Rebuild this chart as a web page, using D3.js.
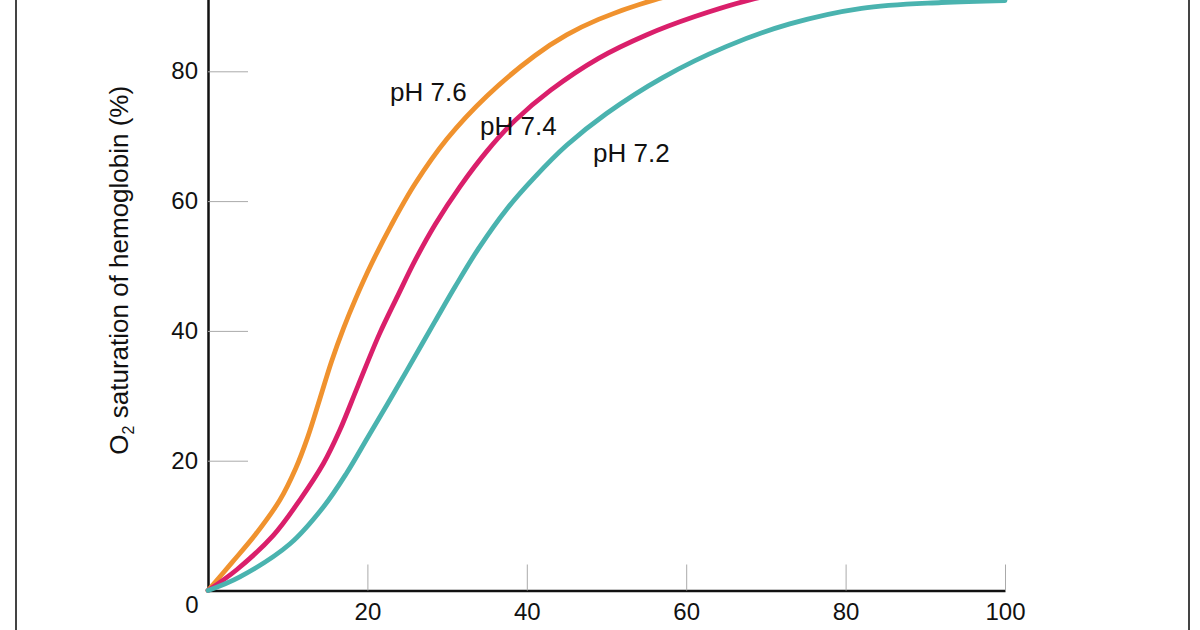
<!DOCTYPE html>
<html>
<head>
<meta charset="utf-8">
<script src="https://cdn.jsdelivr.net/npm/d3@7"></script>
<style>
  html, body { margin: 0; padding: 0; background: #fff; }
  svg { display: block; }
  text { font-family: "Liberation Sans", Arial, Helvetica, sans-serif; fill: #111; }
</style>
</head>
<body>
<svg id="chart" width="1200" height="630"></svg>
<script>
// ---- data ----
const xTickValues = [20, 40, 60, 80, 100];
const yTickValues = [20, 40, 60, 80];

const po2_76 = [0, 3, 6, 9, 11, 12.5, 14, 15.5, 17, 18.5, 20.5, 23, 26, 30, 35, 41, 45, 49, 56, 65, 80, 100];
const sat_76 = [0, 4.3, 8.7, 13.9, 18.8, 23.6, 29.4, 35.3, 40.4, 44.9, 50.3, 56.3, 62.7, 69.6, 76.2, 82.4, 85.6, 88.0, 91, 93.5, 96, 97.5];

const po2_74 = [0, 3.6, 8.2, 11.5, 14.5, 16.5, 18.8, 21.5, 23.8, 26, 28.5, 31.6, 35, 38.5, 43, 49, 55, 61, 68, 80, 100];
const sat_74 = [0, 3.2, 8.5, 13.9, 19.6, 24.6, 31.5, 39.5, 45.4, 50.9, 56.4, 62.2, 67.7, 72.4, 77.1, 82.0, 85.6, 88.4, 91, 94, 96.5];

const po2_72 = [0, 4, 10.3, 14.5, 17.4, 20, 22.5, 25, 28.5, 31, 34, 37.5, 41, 45, 50, 57, 65, 73, 82, 92, 100];
const sat_72 = [0, 2.1, 7.2, 12.9, 18.1, 23.5, 28.7, 34.0, 41.5, 46.8, 52.8, 58.8, 63.7, 68.6, 73.5, 79, 83.8, 87.3, 89.7, 90.6, 90.9];

const seriesNames = ["pH 7.6", "pH 7.4", "pH 7.2"];
const seriesColors = ["#F0922E", "#DA1F6B", "#4AB3AF"];

// ---- layout ----
const svg = d3.select("#chart");
const x = d3.scaleLinear().domain([0, 100]).range([208, 1005]);
const y = d3.scaleLinear().domain([0, 100]).range([590.5, -58.5]);

// frame lines
svg.append("line").attr("x1", 16).attr("x2", 16).attr("y1", 0).attr("y2", 630)
  .attr("stroke", "#444").attr("stroke-width", 2);
svg.append("line").attr("x1", 1189).attr("x2", 1189).attr("y1", 0).attr("y2", 630)
  .attr("stroke", "#444").attr("stroke-width", 2);

// y axis
const gy = svg.append("g").attr("transform", `translate(${x(0)},0)`)
  .call(d3.axisLeft(y).tickValues(yTickValues).tickSize(-40).tickSizeOuter(0).tickPadding(10));
gy.select(".domain").attr("stroke", "#111").attr("stroke-width", 2.5);
gy.selectAll(".tick line").attr("stroke", "#aaa").attr("stroke-width", 1);
gy.selectAll(".tick text").attr("font-size", 24).attr("fill", "#111")
  .attr("font-family", "Liberation Sans, Arial, sans-serif");

// x axis
const gx = svg.append("g").attr("transform", `translate(0,${y(0)})`)
  .call(d3.axisBottom(x).tickValues(xTickValues).tickSize(-26).tickSizeOuter(0).tickPadding(12));
gx.select(".domain").attr("stroke", "#111").attr("stroke-width", 2.5);
gx.selectAll(".tick line").attr("stroke", "#aaa").attr("stroke-width", 1);
gx.selectAll(".tick text").attr("font-size", 24).attr("fill", "#111")
  .attr("font-family", "Liberation Sans, Arial, sans-serif");

// origin label
svg.append("text").attr("x", x(0) - 16).attr("y", y(0) + 22)
  .attr("text-anchor", "middle").attr("font-size", 24).text("0");

// y title
const yt = svg.append("text")
  .attr("transform", `translate(128,${y(0) / 2 - 25}) rotate(-90)`)
  .attr("text-anchor", "middle").attr("font-size", 26);
yt.append("tspan").text("O");
yt.append("tspan").attr("font-size", 16).attr("dy", 6).text("2");
yt.append("tspan").attr("dy", -6).text(" saturation of hemoglobin (%)");

// curves
const line = d3.line().x(d => x(d[0])).y(d => y(d[1])).curve(d3.curveCatmullRom.alpha(0.5));
const seriesData = [
  d3.zip(po2_76, sat_76),
  d3.zip(po2_74, sat_74),
  d3.zip(po2_72, sat_72)
];
seriesData.forEach((pts, i) => {
  svg.append("path").datum(pts).attr("d", line)
    .attr("fill", "none").attr("stroke", seriesColors[i])
    .attr("stroke-width", 4.8).attr("stroke-linecap", "round");
});

// series labels
const labelPos = [[390, 101], [480, 135], [593, 162]];
seriesNames.forEach((n, i) => {
  svg.append("text").attr("x", labelPos[i][0]).attr("y", labelPos[i][1])
    .attr("font-size", 26).text(n);
});
</script>
</body>
</html>
